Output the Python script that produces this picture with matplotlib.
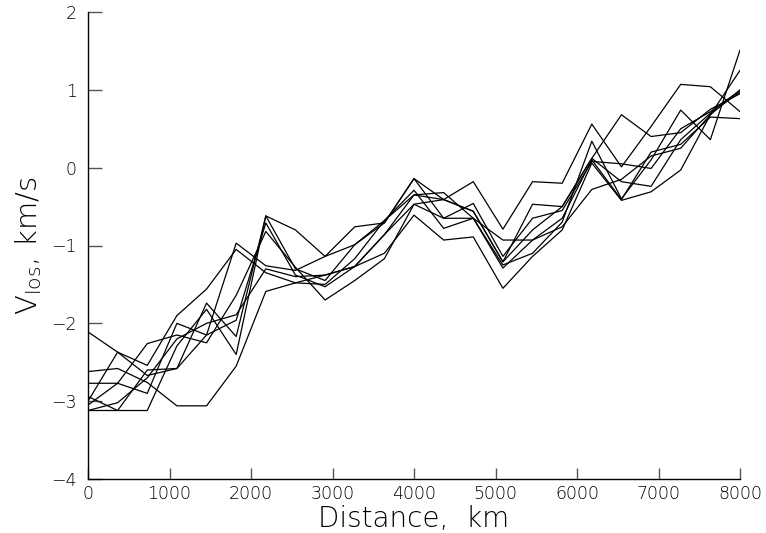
import numpy as np
import matplotlib.pyplot as plt

# distance samples (km), 23 points from 0 to 8000
distance = np.linspace(0, 8000, 23)

# line-of-sight velocity profiles (km/s), one list per trace
v_a = [-2.11, -2.37, -2.67, -2.58, -2.15, -1.96, -0.71, -1.38, -1.53, -1.27, -0.86, -0.35,
       -0.41, -0.56, -1.21, -0.80, -0.50, 0.12, -0.18, -0.24, 0.36, 0.70, 0.97]
v_b = [-2.62, -2.58, -2.76, -3.06, -3.06, -2.55, -1.59, -1.48, -1.38, -1.27, -1.10, -0.61,
       -0.93, -0.89, -1.55, -1.14, -0.80, 0.06, -0.42, -0.31, -0.03, 0.68, 1.25]
v_c = [-2.77, -2.77, -2.90, -2.00, -2.15, -0.97, -1.26, -1.32, -1.14, -0.99, -0.68, -0.35,
       -0.32, -0.65, -1.29, -0.93, -0.65, 0.10, -0.41, 0.20, 0.30, 0.65, 0.63]
v_d = [-2.94, -3.12, -3.12, -2.29, -1.82, -2.40, -0.62, -0.80, -1.14, -0.76, -0.71, -0.14,
       -0.65, -0.46, -1.14, -0.65, -0.55, 0.08, 0.05, -0.01, 0.50, 0.72, 0.99]
v_e = [-3.00, -2.37, -2.54, -1.90, -1.56, -1.05, -1.35, -1.48, -1.50, -1.17, -0.68, -0.29,
       -0.78, -0.65, -1.25, -1.10, -0.70, 0.34, -0.40, 0.10, 0.74, 0.36, 1.51]
v_f = [-3.05, -2.77, -2.26, -2.15, -2.25, -1.64, -0.82, -1.28, -1.70, -1.45, -1.17, -0.47,
       -0.41, -0.18, -0.79, -0.18, -0.20, 0.56, 0.01, 0.53, 1.07, 1.04, 0.72]
v_g = [-3.12, -3.12, -2.60, -2.58, -1.74, -2.17, -0.62, -1.30, -1.45, -0.99, -0.71, -0.14,
       -0.41, -0.56, -1.21, -0.47, -0.50, 0.12, 0.68, 0.40, 0.45, 0.75, 0.95]
v_h = [-3.12, -3.02, -2.70, -2.20, -2.00, -1.89, -1.30, -1.40, -1.38, -1.27, -0.86, -0.47,
       -0.65, -0.65, -0.93, -0.93, -0.76, -0.28, -0.15, 0.15, 0.25, 0.68, 1.00]

traces = [v_a, v_b, v_c, v_d, v_e, v_f, v_g, v_h]

x_ticks = [0, 1000, 2000, 3000, 4000, 5000, 6000, 7000, 8000]
y_ticks = [-4, -3, -2, -1, 0, 1, 2]

plt.rcParams['font.family'] = ['DejaVu Sans']
plt.rcParams['mathtext.fontset'] = 'custom'
plt.rcParams['mathtext.rm'] = 'DejaVu Sans:weight=light'

fig = plt.figure(figsize=(7.66, 5.33), dpi=100)
ax = fig.add_axes([88 / 766, 1 - 479 / 533, (740 - 88) / 766, (479 - 12) / 533])

for v in traces:
    ax.plot(distance, v, color='black', linewidth=0.9)

ax.set_xlim(0, 8000)
ax.set_ylim(-4, 2)
ax.set_xticks(x_ticks)
ax.set_yticks(y_ticks)

for side in ['top', 'right']:
    ax.spines[side].set_visible(False)
for side in ['left', 'bottom']:
    ax.spines[side].set_linewidth(1.0)

ax.tick_params(direction='in', length=8, width=1, color='#555555',
               labelsize=12.5, labelcolor='black', pad=4)
ax.tick_params(axis='y', length=10, pad=8)
for lab in ax.get_xticklabels() + ax.get_yticklabels():
    lab.set_fontweight('light')

ax.set_xlabel('Distance,  km', fontsize=20, fontweight='light',
              color='black', labelpad=2)
ax.set_ylabel(r'V$_{\rm los}$, km/s', fontsize=21, fontweight='light',
              color='black', labelpad=5)

fig.savefig('out.png', dpi=100)
